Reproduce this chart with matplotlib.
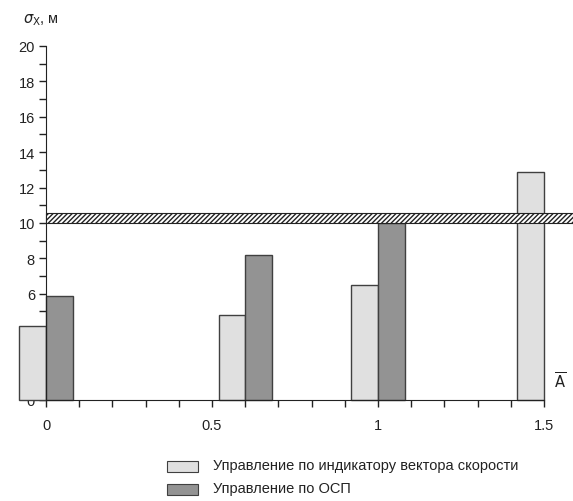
import matplotlib.pyplot as plt
from matplotlib.patches import Rectangle
from matplotlib.ticker import MultipleLocator

plt.rcParams['font.family'] = ['Liberation Sans', 'DejaVu Sans']

# data
groups = [0.0, 0.6, 1.0, 1.5]
speed_vector = [4.2, 4.8, 6.5, 12.9]     # light bars
osp = [5.9, 8.2, 10.0, None]             # dark bars
limit_level = 10.0
legend_labels = ['Управление по индикатору вектора скорости', 'Управление по ОСП']

light = '#e0e0e0'
dark = '#939393'
edge = '#404040'
width = 0.08

fig = plt.figure(figsize=(5.73, 5.02), dpi=100)
ax = fig.add_axes([0.0803, 0.2012, 0.869, 0.7052])

for x, v in zip(groups, speed_vector):
    ax.bar(x, v, width=-width, align='edge', color=light, edgecolor=edge,
           linewidth=1, clip_on=False, zorder=2)
for x, v in zip(groups, osp):
    if v is None:
        continue
    ax.bar(x, v, width=width, align='edge', color=dark, edgecolor=edge,
           linewidth=1, clip_on=False, zorder=2)

# hatched limit band
band = Rectangle((0.0, limit_level), 1.59, 0.55, facecolor='white',
                 edgecolor='#222222', hatch='///////', linewidth=0.8,
                 clip_on=False, zorder=4)
ax.add_patch(band)

ax.set_xlim(0, 1.5)
ax.set_ylim(0, 20)
ax.spines['top'].set_visible(False)
ax.spines['right'].set_visible(False)
ax.spines['left'].set_color('#222222')
ax.spines['bottom'].set_color('#222222')
ax.xaxis.set_minor_locator(MultipleLocator(0.1))
ax.yaxis.set_major_locator(MultipleLocator(2))
ax.yaxis.set_minor_locator(MultipleLocator(1))
ax.set_xticks([0, 0.5, 1, 1.5])
ax.set_xticklabels(['0', '0.5', '1', '1.5'])
ax.tick_params(axis='both', which='both', length=5, width=1, color='#222222',
               labelsize=10.5, labelcolor='#222222')
ax.tick_params(axis='x', pad=8)
ax.tick_params(axis='y', pad=3)

fig.text(0.04, 0.953, r'$\sigma_{\mathrm{X}}$, м', fontsize=10.5, color='#222222')
fig.text(0.978, 0.225, r'$\overline{\mathrm{A}}$', fontsize=10.5, color='#222222',
         ha='center')

# legend drawn by hand below the axes
fig.add_artist(Rectangle((0.291, 0.058), 0.054, 0.022, transform=fig.transFigure,
                         facecolor=light, edgecolor=edge, linewidth=0.8))
fig.add_artist(Rectangle((0.291, 0.012), 0.054, 0.022, transform=fig.transFigure,
                         facecolor=dark, edgecolor=edge, linewidth=0.8))
fig.text(0.372, 0.071, legend_labels[0], fontsize=10.5, va='center', color='#222222')
fig.text(0.372, 0.025, legend_labels[1], fontsize=10.5, va='center', color='#222222')

fig.savefig('out.png', dpi=100)
